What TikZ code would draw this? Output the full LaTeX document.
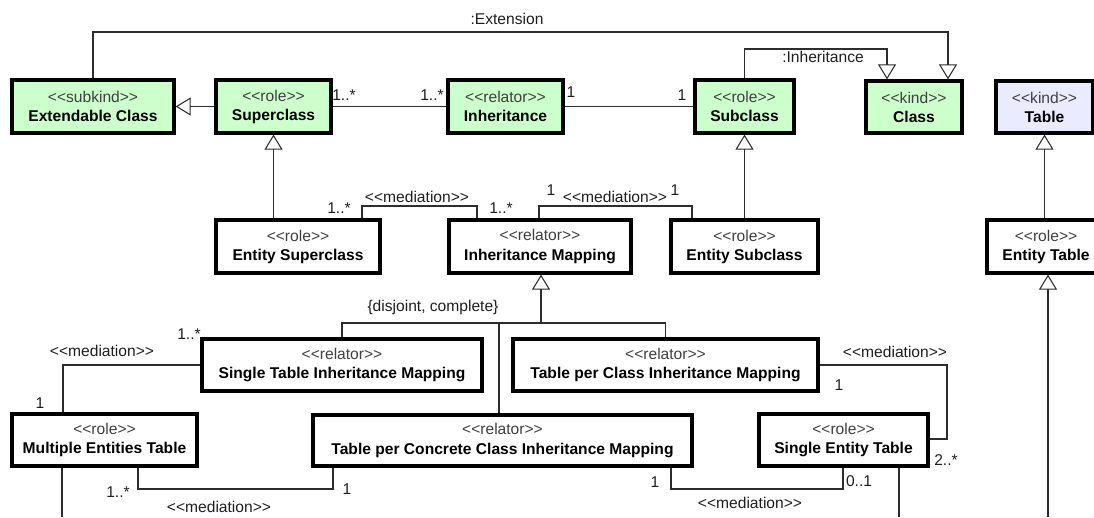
\documentclass[tikz,border=0pt]{standalone}
\usepackage{fontspec}
\setmainfont{Liberation Sans}[Ligatures=TeXOff]
\usetikzlibrary{arrows.meta,calc}

\definecolor{kindgreen}{RGB}{204,255,204}
\definecolor{tablelav}{RGB}{235,235,255}
\definecolor{stereogray}{RGB}{64,64,64}
\definecolor{linegray}{RGB}{45,45,45}
\definecolor{labelgray}{RGB}{30,30,30}

% class box: name, centre x, centre y, width, height, fill, stereotype, title
\newcommand\umlbox[8]{%
  \node[umlclass, fill=#6, minimum width=#4*0.75pt, minimum height=#5*0.75pt]
    (#1) at (#2,#3) {{\color{stereogray}<<#7>>}\\\textbf{#8}};}

\tikzset{
  umlclass/.style={draw=black, line width=2.4pt, align=center, inner sep=1pt,
    font=\fontsize{11.7}{14.3}\selectfont},
  conn/.style={draw=linegray, line width=0.8pt},
  gen/.style={-{Triangle[open, length=11.25pt, width=13.5pt, line width=0.8pt]}},
  lbl/.style={inner sep=0pt, text=labelgray, font=\fontsize{11.7}{14}\selectfont},
}

\begin{document}
\begin{tikzpicture}[x=0.75pt, y=-0.75pt, line join=miter]
\useasboundingbox (0,0) rectangle (1094,517);

% classes of the top row
\umlbox{ext}{93}{106.5}{162}{53}{kindgreen}{subkind}{Extendable Class}
\umlbox{sup}{273.5}{106.5}{115}{53}{kindgreen}{role}{Superclass}
\umlbox{inh}{505.5}{106.5}{115}{53}{kindgreen}{relator}{Inheritance}
\umlbox{sub}{744.5}{106.5}{99}{53}{kindgreen}{role}{Subclass}
\umlbox{cls}{914}{107}{96}{52}{kindgreen}{kind}{Class}
\umlbox{tab}{1044.5}{107}{97}{52}{tablelav}{kind}{Table}

% second row
\umlbox{esup}{298}{246.5}{164}{53}{white}{role}{Entity Superclass}
\umlbox{im}{540}{246.5}{182}{53}{white}{relator}{Inheritance Mapping}
\umlbox{esub}{744.5}{246.5}{147}{53}{white}{role}{Entity Subclass}
\umlbox{etab}{1046}{246.5}{118}{53}{white}{role}{Entity Table}

% third row
\umlbox{stim}{342}{365}{280}{52}{white}{relator}{Single Table Inheritance Mapping}
\umlbox{tpcim}{665.5}{365}{305}{52}{white}{relator}{Table per Class Inheritance Mapping}

% fourth row
\umlbox{met}{104.5}{440}{185}{52}{white}{role}{Multiple Entities Table}
\umlbox{tpccim}{502.5}{440.5}{379}{51}{white}{relator}{Table per Concrete Class Inheritance Mapping}
\umlbox{set}{843.5}{440}{169}{52}{white}{role}{Single Entity Table}

% bend points of the routed connectors
\coordinate (extc) at (948,32);
\coordinate (inhc) at (887,49);
\coordinate (m1a) at (362,206);
\coordinate (m1b) at (477,206);
\coordinate (m2a) at (539,206);
\coordinate (m2b) at (692,206);
\coordinate (gsj) at (541,323);
\coordinate (gsc) at (499,323);
\coordinate (m3) at (63,365);
\coordinate (m4a) at (138,489);
\coordinate (m4b) at (333,489);
\coordinate (m5a) at (671,489);
\coordinate (m5b) at (843,489);
\coordinate (m6a) at (947,365);
\coordinate (m6b) at (947,439);
\coordinate (metend) at (62,517);
\coordinate (setend) at (899,517);
\coordinate (etabend) at (1048,517);

% instance-of style links to Class
\draw[conn,gen] (ext.north) |- (extc) -- (extc |- cls.north);
\draw[conn,gen] (sub.north) |- (inhc) -- (inhc |- cls.north);

% top row associations and generalization
\draw[conn,gen] (sup.west) -- (ext.east);
\draw[conn] (sup.east) -- (inh.west);
\draw[conn] (inh.east) -- (sub.west);

% role specialisations
\draw[conn,gen] (sup.south |- esup.north) -- (sup.south);
\draw[conn,gen] (sub.south |- esub.north) -- (sub.south);
\draw[conn,gen] (tab.south |- etab.north) -- (tab.south);
\draw[conn,gen] (etabend) -- (etabend |- etab.south);

% mediations around Inheritance Mapping
\draw[conn] (m1a |- esup.north) -- (m1a) -- (m1b) -- (m1b |- im.north);
\draw[conn] (m2a |- im.north) -- (m2a) -- (m2b) -- (m2b |- esub.north);

% generalization set of the mapping strategies
\draw[conn,gen] (gsj) -- (gsj |- im.south);
\draw[conn] (stim.north) |- (gsj) -| (tpcim.north);
\draw[conn] (gsc) -- (gsc |- tpccim.north);

% mediations of the tables
\draw[conn] (stim.west) -- (stim.west -| m3) -- (m3 |- met.north);
\draw[conn] (m4a |- met.south) -- (m4a) -- (m4b) -- (m4b |- tpccim.south);
\draw[conn] (m5a |- tpccim.south) -- (m5a) -- (m5b) -- (m5b |- set.south);
\draw[conn] (tpcim.east) -- (m6a |- tpcim.east) -- (m6b) -- (m6b -| set.east);
\draw[conn] (metend |- met.south) -- (metend);
\draw[conn] (setend |- set.south) -- (setend);

% connector labels
\node[lbl] (lext) at (507,19) {:Extension};
\node[lbl] (linh) at (823,57) {:Inheritance};
\node[lbl] (l1) at (344,95) {1..*};
\node[lbl] (l2) at (432,95) {1..*};
\node[lbl] (l3) at (571,92) {1};
\node[lbl] (l4) at (682,95) {1};
\node[lbl] (l5) at (339,208) {1..*};
\node[lbl] (l6) at (417,197) {<<mediation>>};
\node[lbl] (l7) at (501,208) {1..*};
\node[lbl] (l8) at (551,190) {1};
\node[lbl] (l9) at (615,197) {<<mediation>>};
\node[lbl] (l10) at (675,190) {1};
\node[lbl] (lgs) at (433,307) {\{disjoint, complete\}};
\node[lbl] (l11) at (189,334) {1..*};
\node[lbl] (l12) at (102,351) {<<mediation>>};
\node[lbl] (l13) at (40,403) {1};
\node[lbl] (l14) at (118,492) {1..*};
\node[lbl] (l15) at (219,507) {<<mediation>>};
\node[lbl] (l16) at (347,489) {1};
\node[lbl] (l17) at (655,482) {1};
\node[lbl] (l18) at (859,481) {0..1};
\node[lbl] (l19) at (750,503) {<<mediation>>};
\node[lbl] (l20) at (895,352) {<<mediation>>};
\node[lbl] (l21) at (839,385) {1};
\node[lbl] (l22) at (946,460) {2..*};
\end{tikzpicture}
\end{document}
